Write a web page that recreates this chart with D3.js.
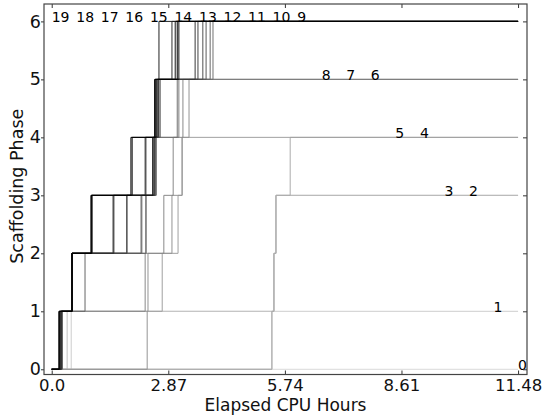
<!DOCTYPE html>
<html>
<head>
<meta charset="utf-8">
<script src="https://cdn.jsdelivr.net/npm/d3@7"></script>
<style>
  body { margin: 0; background: #fff; }
  svg { display: block; font-family: "DejaVu Sans", sans-serif; }
</style>
</head>
<body>
<svg width="546" height="417"></svg>
<script>
// run ids 0..19, each one steps up a phase at the listed hours
let runIds = d3.range(20);
// hours at which each run reached phase 1, 2, 3 ... (index = run id)
let phaseTimes = [
  [],
  [0.48],
  [0.38, 5.47, 5.52],
  [5.42, 5.47, 5.52],
  [5.42, 5.47, 5.52, 5.87],
  [0.25, 2.72, 3.11, 3.21],
  [2.35, 2.37, 2.96, 3.21, 3.38],
  [0.25, 2.30, 2.76, 2.99, 3.23],
  [0.25, 0.50, 2.22, 2.57, 3.13],
  [0.25, 0.50, 2.32, 2.54, 3.09, 3.97],
  [0.25, 0.82, 2.32, 2.57, 2.62, 3.90],
  [0.25, 0.50, 2.20, 2.54, 2.67, 3.80],
  [0.25, 0.50, 1.85, 2.32, 2.64, 3.72],
  [0.23, 0.50, 1.85, 2.54, 2.62, 3.60],
  [0.23, 0.50, 1.51, 2.52, 2.62, 3.53],
  [0.23, 0.50, 1.53, 2.30, 2.59, 2.96],
  [0.20, 0.50, 0.99, 2.49, 2.54, 2.64],
  [0.20, 0.50, 0.99, 2.49, 2.54, 3.04],
  [0.18, 0.50, 0.97, 1.98, 2.57, 3.13],
  [0.18, 0.50, 0.97, 1.95, 2.54, 3.09]
];
let maxHours = 11.48;
let xTicks = [0, 2.87, 5.74, 8.61, 11.48];
let xTickLabels = ["0.0", "2.87", "5.74", "8.61", "11.48"];
let yTicks = [0, 1, 2, 3, 4, 5, 6];

let svg = d3.select('svg');
let plotLeft = 44, plotRight = 527, plotTop = 4, plotBottom = 374.5;

let x = d3.scaleLinear().domain([-0.19, 11.70]).range([plotLeft, plotRight]);
let y = d3.scaleLinear().domain([-0.09, 6.3]).range([plotBottom, plotTop]);

function grey(i) {
  let v = Math.round(255 * 0.85 * (1 - i / 19));
  return d3.rgb(v, v, v).toString();
}

let line = d3.line()
  .x(d => x(d[0]))
  .y(d => y(d[1]))
  .curve(d3.curveStepAfter);

function points(times) {
  let pts = [[0, 0]];
  times.forEach((t, k) => pts.push([t, k + 1]));
  pts.push([maxHours, times.length]);
  return pts;
}

svg.append('g')
  .selectAll('path')
  .data(runIds)
  .join('path')
  .attr('d', i => line(points(phaseTimes[i])))
  .attr('fill', 'none')
  .attr('stroke', i => grey(i))
  .attr('stroke-width', 1);

// run labels along the top of each final phase
svg.append('g')
  .selectAll('text')
  .data(runIds)
  .join('text')
  .attr('x', i => x(maxHours * (19 - i) / 19))
  .attr('y', i => y(phaseTimes[i].length) + 0.5)
  .attr('font-size', 14)
  .attr('fill', '#000')
  .text(i => i);

// axes
let bottomAxis = d3.axisBottom(x).tickValues(xTicks)
  .tickFormat((d, k) => xTickLabels[k])
  .tickSizeInner(-4).tickSizeOuter(0).tickPadding(5);
let gBottom = svg.append('g').attr('transform', `translate(0,${plotBottom})`).call(bottomAxis);

let topAxis = d3.axisBottom(x).tickValues(xTicks).tickFormat('')
  .tickSizeInner(4).tickSizeOuter(0);
svg.append('g').attr('transform', `translate(0,${plotTop})`).call(topAxis);

let leftAxis = d3.axisLeft(y).tickValues(yTicks).tickFormat(d3.format('d'))
  .tickSizeInner(3).tickSizeOuter(0).tickPadding(0);
let gLeft = svg.append('g').attr('transform', `translate(${plotLeft},0)`).call(leftAxis);

let rightAxis = d3.axisLeft(y).tickValues(yTicks).tickFormat('')
  .tickSizeInner(4).tickSizeOuter(0);
svg.append('g').attr('transform', `translate(${plotRight},0)`).call(rightAxis);

svg.selectAll('.domain').remove();
svg.selectAll('.tick line').attr('stroke', '#333');
svg.selectAll('.tick text')
  .attr('font-family', '"DejaVu Sans", sans-serif')
  .attr('fill', '#111');
gBottom.selectAll('.tick text').attr('font-size', 16.5);
gLeft.selectAll('.tick text').attr('font-size', 17.5);

svg.append('rect')
  .attr('x', plotLeft).attr('y', plotTop)
  .attr('width', plotRight - plotLeft).attr('height', plotBottom - plotTop)
  .attr('fill', 'none')
  .attr('stroke', '#444')
  .attr('stroke-width', 1.2);

svg.append('text')
  .attr('x', (plotLeft + plotRight) / 2)
  .attr('y', 411)
  .attr('text-anchor', 'middle')
  .attr('font-size', 17)
  .attr('fill', '#111')
  .text('Elapsed CPU Hours');

svg.append('text')
  .attr('transform', `translate(23,${(plotTop + plotBottom) / 2 - 3}) rotate(-90)`)
  .attr('text-anchor', 'middle')
  .attr('font-size', 17.5)
  .attr('fill', '#111')
  .text('Scaffolding Phase');
</script>
</body>
</html>
